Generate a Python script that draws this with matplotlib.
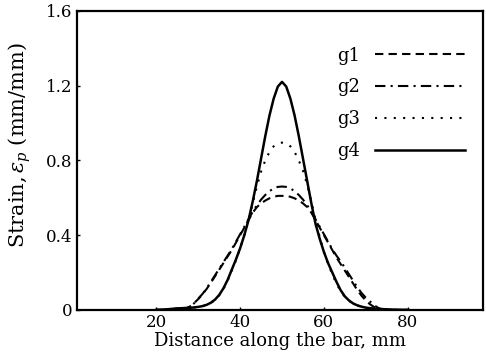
import numpy as np
import matplotlib
matplotlib.use('Agg')
from matplotlib import pyplot as plt

plt.rcParams['font.family'] = ['DejaVu Serif']
plt.rcParams['mathtext.fontset'] = 'dejavuserif'

# Data (x in mm, one point per mm)
x = list(range(20, 81))
g1 = [0, 0, 0, 0, 0, 0, 0.003, 0.008, 0.018, 0.036,
      0.058, 0.083, 0.112, 0.145, 0.18, 0.215, 0.25, 0.285, 0.32, 0.36,
      0.40, 0.44, 0.48, 0.52, 0.55, 0.57, 0.585, 0.597, 0.605, 0.61,
      0.61, 0.61, 0.605, 0.597, 0.585, 0.57, 0.55, 0.52, 0.48, 0.44,
      0.40, 0.36, 0.32, 0.28, 0.245, 0.21, 0.175, 0.14, 0.105, 0.075,
      0.05, 0.03, 0.015, 0.006, 0.001, 0, 0, 0, 0, 0,
      0]
g2 = [0, 0, 0, 0, 0, 0, 0.001, 0.005, 0.015, 0.035,
      0.06, 0.085, 0.115, 0.15, 0.185, 0.22, 0.255, 0.29, 0.325, 0.365,
      0.405, 0.445, 0.485, 0.525, 0.56, 0.59, 0.615, 0.635, 0.65, 0.658,
      0.66, 0.658, 0.65, 0.635, 0.615, 0.59, 0.56, 0.525, 0.485, 0.445,
      0.405, 0.365, 0.325, 0.29, 0.26, 0.225, 0.19, 0.155, 0.12, 0.09,
      0.065, 0.045, 0.025, 0.01, 0.003, 0, 0, 0, 0, 0,
      0]
g3 = [0, 0.001, 0.002, 0.004, 0.006, 0.008, 0.009, 0.01, 0.011, 0.013,
      0.016, 0.02, 0.027, 0.037, 0.052, 0.078, 0.112, 0.155, 0.21, 0.265,
      0.33, 0.40, 0.48, 0.57, 0.66, 0.74, 0.80, 0.845, 0.875, 0.89,
      0.895, 0.89, 0.875, 0.845, 0.80, 0.745, 0.67, 0.58, 0.48, 0.39,
      0.31, 0.245, 0.19, 0.14, 0.10, 0.07, 0.048, 0.033, 0.023, 0.016,
      0.011, 0.008, 0.006, 0.004, 0.003, 0.002, 0.001, 0, 0, 0,
      0]
g4 = [0, 0.001, 0.002, 0.004, 0.006, 0.008, 0.009, 0.01, 0.011, 0.013,
      0.016, 0.02, 0.027, 0.038, 0.055, 0.08, 0.115, 0.16, 0.215, 0.27,
      0.33, 0.40, 0.48, 0.58, 0.69, 0.81, 0.93, 1.04, 1.13, 1.195,
      1.22, 1.195, 1.13, 1.04, 0.93, 0.81, 0.69, 0.57, 0.46, 0.38,
      0.31, 0.25, 0.20, 0.15, 0.105, 0.072, 0.05, 0.034, 0.024, 0.017,
      0.012, 0.009, 0.007, 0.005, 0.004, 0.003, 0.002, 0.001, 0, 0,
      0]

fig = plt.figure(figsize=(4.86, 3.62), dpi=100)
ax = fig.add_axes([0.158, 0.144, 0.836, 0.826])

ax.plot(x, g1, color='black', lw=1.5, linestyle=(0, (4, 2.5)), label='g1')
ax.plot(x, g2, color='black', lw=1.5, linestyle=(0, (5, 2.5, 1, 2.5)), label='g2')
ax.plot(x, g3, color='black', lw=1.5, linestyle=(0, (1, 3.5)), label='g3')
ax.plot(x, g4, color='black', lw=1.8, linestyle='-', label='g4')

ax.set_xlim(1, 98)
ax.set_ylim(0, 1.6)
ax.set_xticks([20, 40, 60, 80])
ax.set_yticks([0, 0.4, 0.8, 1.2, 1.6])
ax.set_yticklabels(['0', '0.4', '0.8', '1.2', '1.6'])
ax.tick_params(direction='in', length=2, labelsize=12, width=1, pad=3)
for s in ax.spines.values():
    s.set_linewidth(1.6)

ax.set_xlabel('Distance along the bar, mm', fontsize=13, labelpad=1)
ax.set_ylabel(r'Strain,$\,\varepsilon_p$ (mm/mm)', fontsize=15)
ax.yaxis.set_label_coords(-0.108, 0.552)

ax.legend(loc='upper right', bbox_to_anchor=(0.995, 0.935), frameon=False, markerfirst=False,
          fontsize=13, handlelength=5, labelspacing=0.77, handletextpad=0.8)

plt.savefig('out.png', dpi=100)
